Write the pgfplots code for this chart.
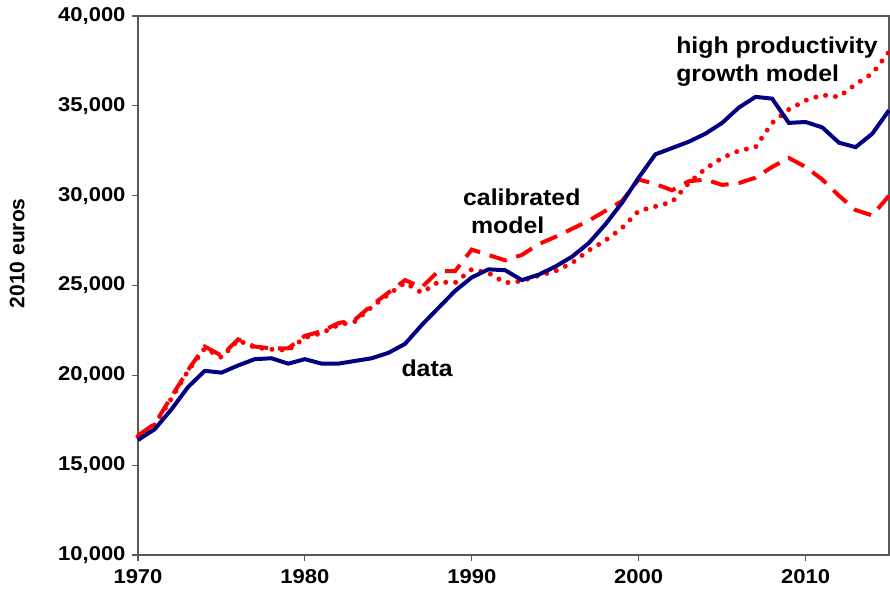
\documentclass[border=0pt]{standalone}
\usepackage{fontspec}
\setmainfont{Liberation Sans}
\newfontfamily\tickfont{Liberation Sans}[FakeStretch=1.1]
\newfontfamily\labfont{Liberation Sans}[FakeStretch=1.08]
\usepackage{pgfplots}
\pgfplotsset{compat=1.18}
\usepackage{pgfplotstable}
\definecolor{navyline}{RGB}{0,0,128}
\definecolor{redline}{RGB}{255,0,0}

\pgfplotstableread{
year data calib high
1970 16400 16650 16600
1971 17000 17300 17250
1972 18100 18800 18700
1973 19350 20300 20250
1974 20250 21600 21500
1975 20150 21100 21000
1976 20550 22000 21950
1977 20900 21600 21550
1978 20950 21500 21450
1979 20650 21500 21400
1980 20900 22200 22100
1981 20650 22450 22350
1982 20650 22900 22800
1983 20800 23100 23000
1984 20950 23900 23800
1985 21250 24600 24500
1986 21750 25300 25150
1987 22800 24900 24600
1988 23750 25800 25200
1989 24700 25800 25150
1990 25450 27000 25900
1991 25900 26700 25700
1992 25850 26400 25150
1993 25300 26700 25250
1994 25600 27300 25550
1995 26050 27700 25800
1996 26600 28150 26250
1997 27350 28600 26950
1998 28400 29150 27500
1999 29600 29700 28200
2000 31000 30900 29150
2001 32300 30650 29400
2002 32650 30300 29650
2003 33000 30800 30700
2004 33450 30900 31500
2005 34050 30600 32100
2006 34900 30700 32500
2007 35500 31000 32700
2008 35400 31600 34050
2009 34050 32100 34800
2010 34100 31600 35300
2011 33800 30900 35600
2012 32950 30000 35500
2013 32700 29200 36200
2014 33450 28900 36800
2015 34750 30000 38000
}\gdp

\begin{document}
\begin{tikzpicture}
\useasboundingbox (0,0) rectangle (890bp,594bp);
\begin{axis}[
  at={(138bp,39bp)}, anchor=south west,
  scale only axis, width=751bp, height=539bp,
  xmin=1970, xmax=2015, ymin=10000, ymax=40000,
  xtick={1970,1980,1990,2000,2010},
  ytick={10000,15000,20000,25000,30000,35000,40000},
  tick align=outside, xtick pos=left, ytick pos=left,
  major tick length=6bp,
  axis line style={black!65, line width=1.2bp},
  every tick/.style={black!65, line width=1.2bp},
  /pgf/number format/assume math mode=true,
  ticklabel style={font=\tickfont\bfseries\fontsize{20bp}{23bp}\selectfont},
  xticklabel style={/pgf/number format/1000 sep={}, yshift=-5bp},
  yticklabel style={/pgf/number format/1000 sep={,}, xshift=-3bp},
  scaled y ticks=false,
  ylabel={2010 euros},
  ylabel style={font=\bfseries\fontsize{21bp}{24bp}\selectfont,
    at={(axis description cs:-0.161,0.56)}, anchor=center},
  clip=false,
]
\addplot[redline, line width=5bp, line cap=round, dash pattern=on 0bp off 10bp] table[x=year,y=high] {\gdp};
\addplot[redline, line width=4bp, dash pattern=on 18bp off 10bp] table[x=year,y=calib] {\gdp};
\addplot[navyline, line width=4bp] table[x=year,y=data] {\gdp};

\node[font=\labfont\bfseries\fontsize{23bp}{28bp}\selectfont, inner sep=0pt, anchor=center]
  at (axis cs:1987.32,20408) {data};
\node[font=\labfont\bfseries\fontsize{23bp}{28bp}\selectfont, inner sep=0pt, anchor=north west, align=left]
  at (axis cs:1989.47,30371) {calibrated\\\hspace*{8bp}model};
\node[font=\labfont\bfseries\fontsize{23bp}{28bp}\selectfont, inner sep=0pt, anchor=north west, align=left]
  at (axis cs:2002.24,38832) {high productivity\\growth model};
\end{axis}
\end{tikzpicture}
\end{document}
